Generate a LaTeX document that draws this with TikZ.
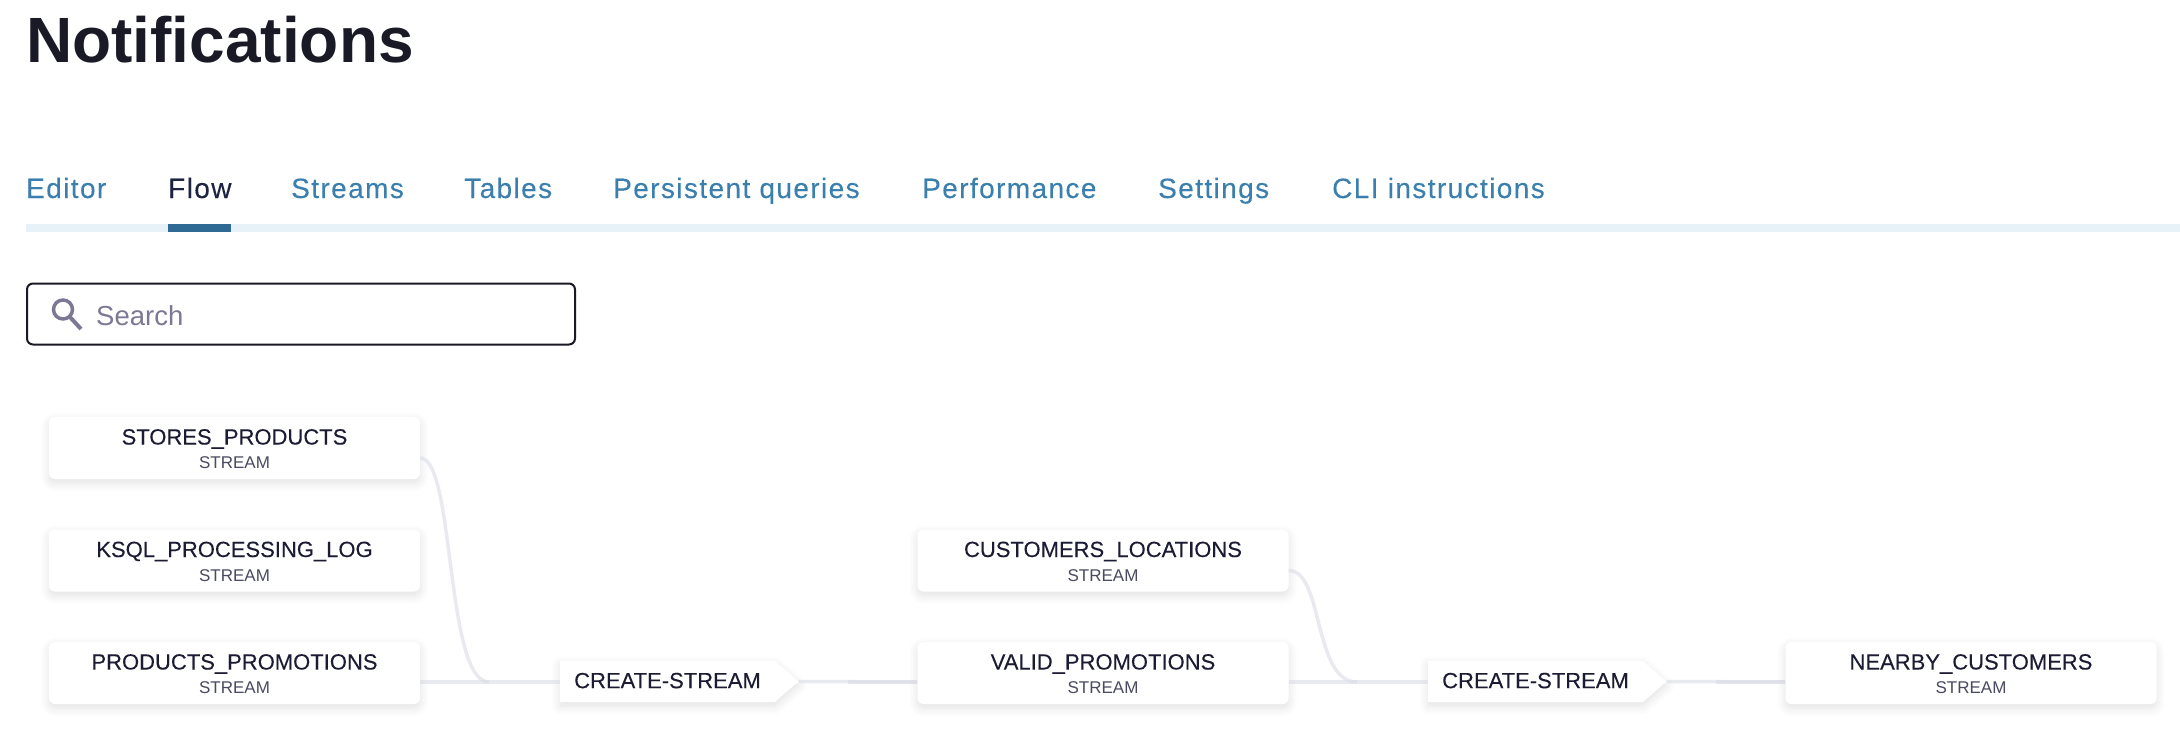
\documentclass[tikz,border=0pt]{standalone}
\usepackage{fontspec}
\setmainfont{Liberation Sans}
\newfontfamily\tabfont[LetterSpace=5,FakeBold=0.12]{Liberation Sans}
\newfontfamily\namefont[FakeBold=0.12]{Liberation Sans}
\usetikzlibrary{shapes.symbols,shadows.blur}
\definecolor{inkdark}{HTML}{191A26}
\definecolor{inknode}{HTML}{1B1B33}
\definecolor{inksub}{HTML}{4A4A60}
\definecolor{tabblue}{HTML}{3A7FAE}
\definecolor{tabnavy}{HTML}{1C2442}
\definecolor{barlight}{HTML}{E6F2F8}
\definecolor{barblue}{HTML}{2E6A94}
\definecolor{hintgrey}{HTML}{7C7894}
\definecolor{edgegrey}{HTML}{D4D6E2}
\tikzset{
  softshadow/.style={blur shadow={shadow xshift=0pt,shadow yshift=-4pt,shadow blur radius=9pt,shadow blur steps=10,shadow opacity=12}},
  streamnode/.style={rectangle,rounded corners=6pt,fill=white,softshadow,minimum width=371pt,minimum height=62pt,inner sep=0pt,align=center,text=inknode,font=\namefont\fontsize{22}{23}\selectfont},
  querynode/.style={signal,signal to=east,signal pointer angle=82,fill=white,softshadow,inner xsep=14pt,inner ysep=0pt,minimum height=41pt,text=inknode,font=\namefont\fontsize{22}{24}\selectfont},
  tablabel/.style={anchor=base west,inner sep=0pt,font=\tabfont\fontsize{28}{32}\selectfont},
  edgeline/.style={draw=edgegrey,line width=3.5pt,opacity=.5}
}
\newcommand{\streamtext}[1]{\rule{0pt}{17.6pt}#1\\[1.4pt]\normalfont\fontsize{17}{23}\selectfont\color{inksub}STREAM}
\newcommand{\querytext}{CREATE-STREAM\rule[-2pt]{0pt}{2pt}}
\begin{document}
\begin{tikzpicture}[x=1pt,y=-1pt]
  \useasboundingbox (0,0) rectangle (2180,744);

  \node (title) [anchor=base west,inner sep=0pt,text=inkdark,font=\fontsize{64}{70}\selectfont\bfseries] at (26,62) {Notifications};

  \foreach \tabname/\xpos/\tabcol [count=\i] in {Editor/26/tabblue,Flow/168/tabnavy,Streams/291/tabblue,Tables/464/tabblue,Persistent queries/613/tabblue,Performance/922/tabblue,Settings/1158/tabblue,CLI instructions/1332/tabblue}
    \node (tab\i) [tablabel,text=\tabcol] at (\xpos,198) {\tabname};

  \fill[barlight] (26,224) rectangle (2180,232);
  \fill[barblue] (168,224) rectangle (231,232);

  \node (searchbox) [draw=inkdark,line width=2pt,rounded corners=6pt,minimum width=548pt,minimum height=61pt] at (301,314) {};
  \draw[hintgrey,line width=3.5pt] (63,309.5) circle (9.5);
  \draw[hintgrey,line width=4pt] (69.5,316.5) -- (81,329);
  \node (searchtext) [anchor=base west,inner sep=0pt,text=hintgrey,font=\fontsize{27.5}{30}\selectfont] at (96,325) {Search};

  % streams
  \foreach \id/\nodename/\xpos/\ypos in {sp/STORES\_PRODUCTS/234.5/448,kpl/KSQL\_PROCESSING\_LOG/234.5/560.5,pp/PRODUCTS\_PROMOTIONS/234.5/673,cl/CUSTOMERS\_LOCATIONS/1103/560.5,vp/VALID\_PROMOTIONS/1103/673,nc/NEARBY\_CUSTOMERS/1971/673}
    \node (\id) [streamnode] at (\xpos,\ypos) {\streamtext{\nodename}};

  % queries
  \node (cs1) [querynode,anchor=west] at (560,681.5) {\querytext};
  \node (cs2) [querynode,anchor=west] at (1428,681.5) {\querytext};

  \coordinate (join1) at (489,682);
  \coordinate (join2) at (1357,682);
  \coordinate (tail1) at (848,682);
  \coordinate (tail2) at (1716,682);

  \foreach \from/\to in {pp/cs1,vp/cs2}
    \draw[edgeline] ([yshift=-9pt]\from.east) -- (\to.west |- join1);
  \foreach \from/\to in {cs1/vp,cs2/nc}
    \draw[edgeline] (\from.east) -- (\to.west |- join1);
  \draw[edgeline] (tail1) -- (vp.west |- join1);
  \draw[edgeline] (tail2) -- (nc.west |- join1);

  \draw[edgeline] ([yshift=-10pt]sp.east) .. controls +(35,0) and (445,682) .. (join1);
  \draw[edgeline] ([yshift=-10pt]cl.east) .. controls +(35,0) and (1313,682) .. (join2);
\end{tikzpicture}
\end{document}
